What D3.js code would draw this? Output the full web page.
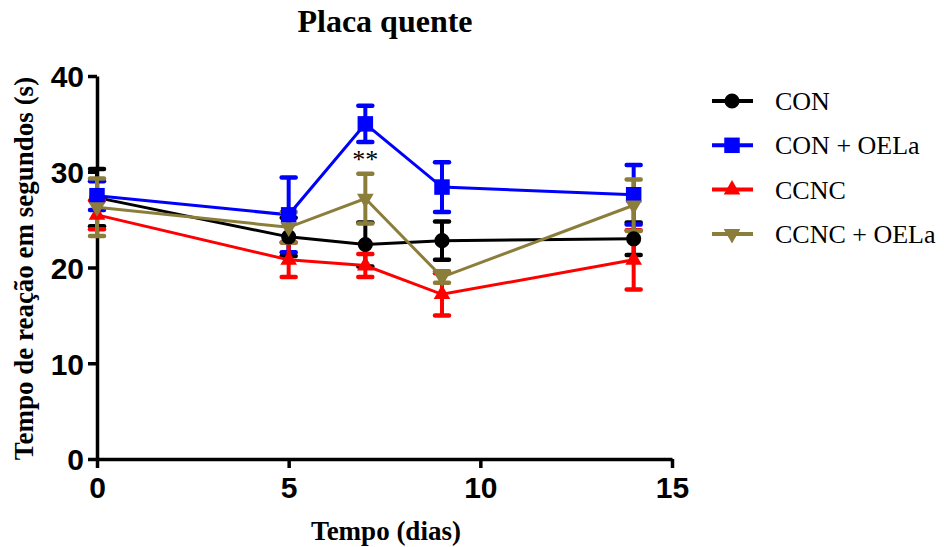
<!DOCTYPE html>
<html>
<head>
<meta charset="utf-8">
<script src="https://cdn.jsdelivr.net/npm/d3@7"></script>
<style>
  body { margin: 0; background: #fff; }
  svg { display: block; }
</style>
</head>
<body>
<div class="chart"></div>
<script>
// Données
const days = [0, 5, 7, 9, 14];
const seriesNames = ["CON", "CON + OELa", "CCNC", "CCNC + OELa"];
const colors = ["#000000", "#0000ff", "#ff0000", "#8b7d3a"];
const symbols = ["circle", "square", "triangle", "triangleDown"];
const means = [
  [27.3, 23.2, 22.4, 22.8, 23.0],
  [27.5, 25.5, 35.0, 28.4, 27.6],
  [25.5, 20.8, 20.2, 17.2, 20.8],
  [26.3, 24.2, 27.2, 19.0, 26.5]
];
const sems = [
  [3.0, 2.0, 2.3, 2.0, 1.7],
  [1.5, 3.9, 1.9, 2.6, 3.1],
  [1.5, 1.8, 1.2, 2.2, 3.1],
  [3.0, 1.6, 2.6, 0.6, 2.7]
];
const xTicks = [0, 5, 10, 15];
const yTicks = [0, 10, 20, 30, 40];

const width = 944, height = 547;
const svg = d3.select('.chart').append('svg')
  .attr('width', width).attr('height', height);

const x = d3.scaleLinear().domain([0, 15]).range([97, 672]);
const y = d3.scaleLinear().domain([0, 40]).range([459, 76]);

// Axes
const tickFont = '"Liberation Sans Narrow", "Arial Narrow", Arial, sans-serif';
const xAxis = svg.append('g')
  .attr('transform', `translate(0,${y(0)})`)
  .call(d3.axisBottom(x).tickValues(xTicks).tickSize(9).tickPadding(7).tickSizeOuter(0));
const yAxis = svg.append('g')
  .attr('transform', `translate(${x(0)},0)`)
  .call(d3.axisLeft(y).tickValues(yTicks).tickSize(9).tickPadding(4).tickSizeOuter(0));
[xAxis, yAxis].forEach(g => {
  g.select('.domain').attr('stroke', '#000').attr('stroke-width', 3.5);
  g.selectAll('.tick line').attr('stroke', '#000').attr('stroke-width', 3.5);
  g.selectAll('.tick text')
    .attr('fill', '#000')
    .style('font-family', tickFont)
    .style('font-weight', 'bold')
    .style('font-size', '30px');
});
xAxis.selectAll('.tick text').attr('dy', '0.75em');
yAxis.selectAll('.tick text').attr('dy', '0.36em');

// Lignes, barres d'erreur, symboles
const line = d3.line().x((d, i) => x(days[i])).y(d => y(d));
means.forEach((vals, s) => {
  const g = svg.append('g');
  const c = colors[s];
  vals.forEach((v, i) => {
    const e = sems[s][i];
    const cx = x(days[i]);
    g.append('line')
      .attr('x1', cx).attr('x2', cx)
      .attr('y1', y(v - e)).attr('y2', y(v + e))
      .attr('stroke', c).attr('stroke-width', 4);
    [v - e, v + e].forEach(w => {
      g.append('line')
        .attr('x1', cx - 7).attr('x2', cx + 7)
        .attr('y1', y(w)).attr('y2', y(w))
        .attr('stroke', c).attr('stroke-width', 4.5)
        .attr('stroke-linecap', 'round');
    });
  });
  g.append('path')
    .attr('d', line(vals))
    .attr('fill', 'none')
    .attr('stroke', c)
    .attr('stroke-width', 3);
});

const symSize = { circle: 180, square: 240, triangle: 120, triangleDown: 120 };
function symbolPath(name) {
  const t = { circle: d3.symbolCircle, square: d3.symbolSquare,
              triangle: d3.symbolTriangle, triangleDown: d3.symbolTriangle }[name];
  return d3.symbol(t, symSize[name])();
}
means.forEach((vals, s) => {
  vals.forEach((v, i) => {
    const rot = symbols[s] === 'triangleDown' ? ' rotate(180)' : '';
    svg.append('path')
      .attr('d', symbolPath(symbols[s]))
      .attr('transform', `translate(${x(days[i])},${y(v)})${rot}`)
      .attr('fill', colors[s]);
  });
});

// Significance
svg.append('text')
  .attr('x', x(7)).attr('y', 168)
  .attr('text-anchor', 'middle')
  .style('font-family', '"Liberation Serif", "Times New Roman", serif')
  .style('font-size', '26px')
  .text('**');

// Titres
const serif = '"Liberation Serif", "Times New Roman", serif';
svg.append('text')
  .attr('x', 385).attr('y', 32)
  .attr('text-anchor', 'middle')
  .style('font-family', serif).style('font-weight', 'bold').style('font-size', '32px')
  .text('Placa quente');
svg.append('text')
  .attr('x', 386).attr('y', 540)
  .attr('text-anchor', 'middle')
  .style('font-family', serif).style('font-weight', 'bold').style('font-size', '27px')
  .text('Tempo (dias)');
svg.append('text')
  .attr('transform', `translate(33,${(76 + 459) / 2 + 1}) rotate(-90)`)
  .attr('text-anchor', 'middle')
  .style('font-family', serif).style('font-weight', 'bold').style('font-size', '27px')
  .text('Tempo de reação em segundos (s)');

// Légende
const legend = svg.append('g');
seriesNames.forEach((name, s) => {
  const ly = 101 + s * 44.3;
  legend.append('line')
    .attr('x1', 712).attr('x2', 753).attr('y1', ly).attr('y2', ly)
    .attr('stroke', colors[s]).attr('stroke-width', 4);
  const rot = symbols[s] === 'triangleDown' ? ' rotate(180)' : '';
  legend.append('path')
    .attr('d', symbolPath(symbols[s]))
    .attr('transform', `translate(732,${ly})${rot}`)
    .attr('fill', colors[s]);
  legend.append('text')
    .attr('x', 775).attr('y', ly + 9)
    .style('font-family', serif).style('font-size', '26px')
    .text(name);
});
</script>
</body>
</html>
